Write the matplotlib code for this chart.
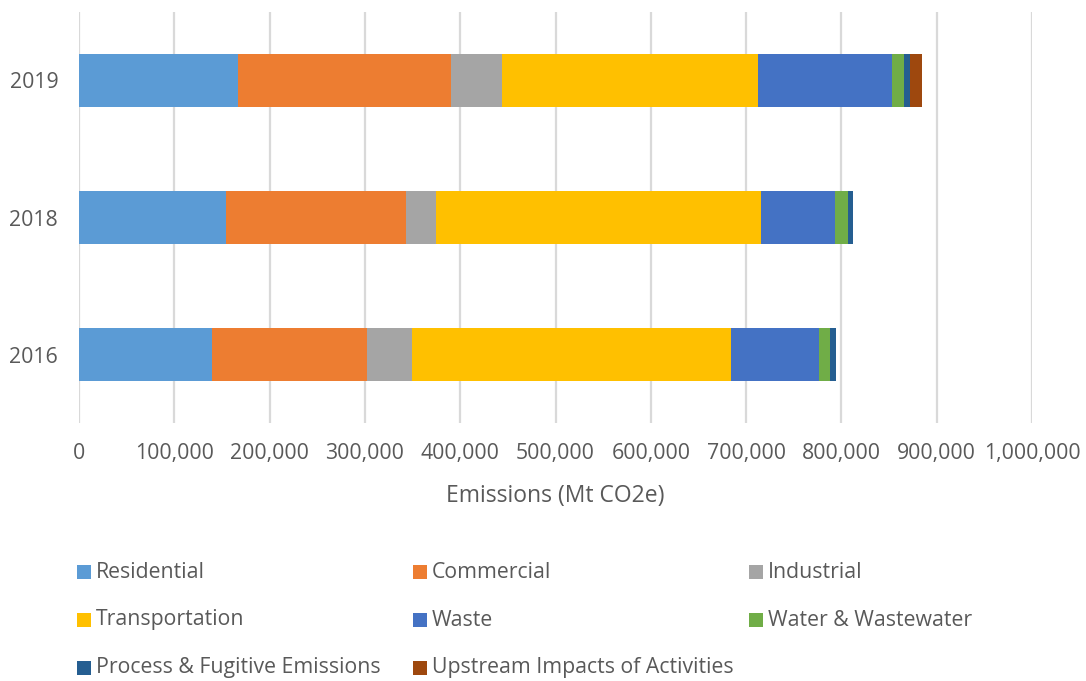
import matplotlib
matplotlib.use("Agg")
import matplotlib.pyplot as plt
from matplotlib.patches import Rectangle
from matplotlib.ticker import FuncFormatter

years = ["2016", "2018", "2019"]
series = ["Residential", "Commercial", "Industrial", "Transportation", "Waste",
          "Water & Wastewater", "Process & Fugitive Emissions", "Upstream Impacts of Activities"]
residential = [139400, 154100, 167300]
commercial = [162400, 189400, 223500]
industrial = [47300, 31200, 53500]
transportation = [335100, 340600, 268200]
waste = [92800, 78100, 140500]
water = [10800, 13300, 12900]
process = [6600, 5300, 5600]
upstream = [0, 0, 13300]
colors = ["#5B9BD5", "#ED7D31", "#A5A5A5", "#FFC000", "#4472C4", "#70AD47", "#255E91", "#9E480E"]
xticks = [0, 100000, 200000, 300000, 400000, 500000, 600000, 700000, 800000, 900000, 1000000]

values = [residential, commercial, industrial, transportation, waste, water, process, upstream]

plt.rcParams['font.family'] = ['Open Sans', 'DejaVu Sans']
W, H = 1086, 681
fig = plt.figure(figsize=(W / 100, H / 100), dpi=100)
ax = fig.add_axes([79 / W, 1 - 423 / H, (1032 - 79) / W, (423 - 12) / H])

ypos = list(range(len(years)))
left = [0] * len(years)
for name, vals, c in zip(series, values, colors):
    ax.barh(ypos, vals, left=left, height=0.39, color=c, label=name, zorder=3)
    left = [l + v for l, v in zip(left, vals)]

ax.set_xlim(0, 1000000)
ax.set_ylim(-0.5, 2.5)
ax.set_xticks(xticks)
ax.xaxis.set_major_formatter(FuncFormatter(lambda v, p: f"{int(v):,}"))
ax.set_yticks(ypos)
ax.set_yticklabels(years)
ax.grid(axis='x', color='#D9D9D9', linewidth=1.6, zorder=0)
for s in ax.spines.values():
    s.set_visible(False)
ax.tick_params(axis='both', length=0, colors='#595959', labelsize=15.3)
ax.tick_params(axis='x', pad=14.5)
ax.tick_params(axis='y', pad=15)
ax.set_xlabel("Emissions (Mt CO2e)", fontsize=16.5, color='#595959', labelpad=14)

# legend (manual, row-major, 3 columns)
col_x = [77, 413, 749]
row_y = [572, 620, 668]
sq = 14
for i, (name, c) in enumerate(zip(series, colors)):
    r, k = divmod(i, 3)
    x0, yc = col_x[k], row_y[r]
    fig.patches.append(Rectangle((x0 / W, 1 - (yc + sq / 2) / H), sq / W, sq / H,
                                 transform=fig.transFigure, facecolor=c, edgecolor='none'))
    fig.text((x0 + sq + 5) / W, 1 - yc / H, name, fontsize=15.3, color='#595959',
             va='center', ha='left')

fig.savefig("out.png", dpi=100)
